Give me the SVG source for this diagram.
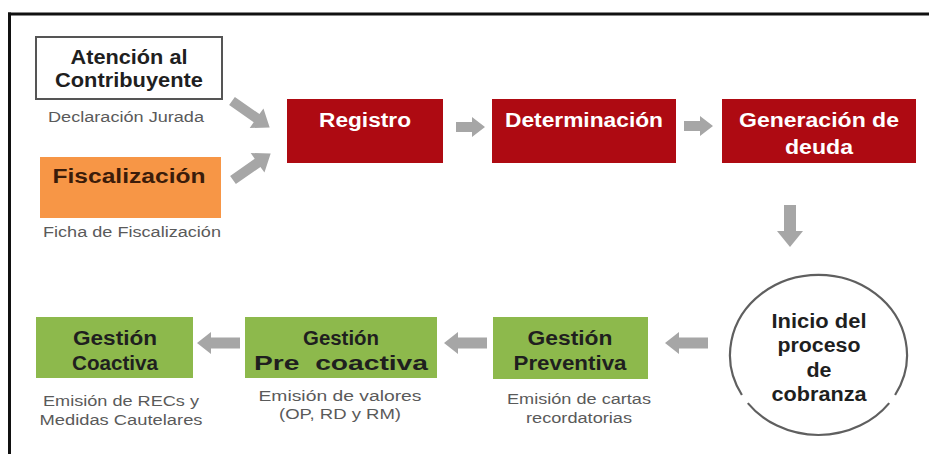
<svg xmlns="http://www.w3.org/2000/svg" width="929" height="454" viewBox="0 0 929 454">
<style>
.t{font-family:"Liberation Sans",Arial,sans-serif;font-weight:bold;font-size:20px;text-anchor:middle;fill:#1f1f1f}
.w{fill:#ffffff}
.c{font-family:"Liberation Sans",Arial,sans-serif;font-size:14px;text-anchor:middle;fill:#5a5a5a}
.red{fill:#AE0A12}
.grn{fill:#8DB94C}
.arr{fill:#A6A6A6}
</style>
<defs>
<path id="aBig" d="M0,-5 H30 V-12 L46,0 L30,12 V5 H0 Z"/>
<path id="aSm" d="M0,-5 H16 V-10 L29,0 L16,10 V5 H0 Z"/>
<path id="aMid" d="M0,-5.5 H29 V-11 L43,0 L29,11 V5.5 H0 Z"/>
</defs>
<rect width="929" height="454" fill="#ffffff"/>
<g id="frame" stroke="#111" stroke-width="3" fill="none">
<line x1="8" y1="14" x2="929" y2="14"/>
<line x1="9.5" y1="12.5" x2="9.5" y2="454"/>
</g>

<g id="atencion">
<rect x="36" y="37" width="186" height="62" fill="#fff" stroke="#555" stroke-width="2"/>
<text class="t" x="129" y="64" textLength="117" lengthAdjust="spacingAndGlyphs">Atención al</text>
<text class="t" x="129" y="87" textLength="148" lengthAdjust="spacingAndGlyphs">Contribuyente</text>
<text class="c" x="126" y="122" textLength="156" lengthAdjust="spacingAndGlyphs">Declaración Jurada</text>
</g>

<g id="fiscalizacion">
<rect x="40" y="157" width="181" height="61" fill="#F79646"/>
<text class="t" x="129" y="183" style="fill:#3B1C0A" textLength="153" lengthAdjust="spacingAndGlyphs">Fiscalización</text>
<text class="c" x="132" y="237" textLength="178" lengthAdjust="spacingAndGlyphs">Ficha de Fiscalización</text>
</g>

<g id="registro">
<rect class="red" x="287" y="99" width="156" height="64"/>
<text class="t w" x="365" y="127" textLength="92" lengthAdjust="spacingAndGlyphs">Registro</text>
</g>

<g id="determinacion">
<rect class="red" x="492" y="99" width="184" height="64"/>
<text class="t w" x="584" y="127" textLength="158" lengthAdjust="spacingAndGlyphs">Determinación</text>
</g>

<g id="generacion">
<rect class="red" x="722" y="99" width="194" height="64"/>
<text class="t w" x="819" y="127" textLength="160" lengthAdjust="spacingAndGlyphs">Generación de</text>
<text class="t w" x="819" y="154" textLength="68" lengthAdjust="spacingAndGlyphs">deuda</text>
</g>

<g id="inicio">
<path d="M741.9,395 A88.5,80 0 1 1 895.1,395" fill="none" stroke="#5f5f5f" stroke-width="2.2"/>
<path d="M889.2,403.1 A88.5,80 0 0 1 747.8,403.1" fill="none" stroke="#5f5f5f" stroke-width="2.2"/>
<text class="t" x="819" y="328" textLength="95" lengthAdjust="spacingAndGlyphs">Inicio del</text>
<text class="t" x="819" y="352" textLength="83" lengthAdjust="spacingAndGlyphs">proceso</text>
<text class="t" x="819" y="377" textLength="25" lengthAdjust="spacingAndGlyphs">de</text>
<text class="t" x="819" y="401" textLength="95" lengthAdjust="spacingAndGlyphs">cobranza</text>
</g>

<g id="preventiva">
<rect class="grn" x="493" y="317" width="155" height="62"/>
<text class="t" x="570" y="345" textLength="85" lengthAdjust="spacingAndGlyphs">Gestión</text>
<text class="t" x="570" y="370" textLength="113" lengthAdjust="spacingAndGlyphs">Preventiva</text>
<text class="c" x="579" y="404" textLength="144" lengthAdjust="spacingAndGlyphs">Emisión de cartas</text>
<text class="c" x="579" y="423" textLength="106" lengthAdjust="spacingAndGlyphs">recordatorias</text>
</g>

<g id="precoactiva">
<rect class="grn" x="245" y="317" width="192" height="61"/>
<text class="t" x="341" y="345" textLength="76" lengthAdjust="spacingAndGlyphs">Gestión</text>
<text class="t" x="341" y="370" textLength="174" lengthAdjust="spacingAndGlyphs" style="white-space:pre">Pre  coactiva</text>
<text class="c" x="340" y="401" textLength="163" lengthAdjust="spacingAndGlyphs">Emisión de valores</text>
<text class="c" x="340" y="419" textLength="122" lengthAdjust="spacingAndGlyphs">(OP, RD y RM)</text>
</g>

<g id="coactiva">
<rect class="grn" x="36" y="317" width="157" height="61"/>
<text class="t" x="115" y="345" textLength="84" lengthAdjust="spacingAndGlyphs">Gestión</text>
<text class="t" x="115" y="370" textLength="86" lengthAdjust="spacingAndGlyphs">Coactiva</text>
<text class="c" x="121" y="406" textLength="156" lengthAdjust="spacingAndGlyphs">Emisión de RECs y</text>
<text class="c" x="121" y="425" textLength="163" lengthAdjust="spacingAndGlyphs">Medidas Cautelares</text>
</g>

<g id="connectors" class="arr">
<use href="#aBig" transform="translate(232,101) rotate(35)"/>
<use href="#aBig" transform="translate(233,180) rotate(-35)"/>
<use href="#aSm" transform="translate(456,127)"/>
<use href="#aSm" transform="translate(684,126)"/>
<path d="M784,205 H796 V231 H803 L790,247 L777,231 H784 Z"/>
<use href="#aMid" transform="translate(708,343) rotate(180)"/>
<use href="#aMid" transform="translate(487,343) rotate(180)"/>
<use href="#aMid" transform="translate(240,343) rotate(180)"/>
</g>
</svg>
